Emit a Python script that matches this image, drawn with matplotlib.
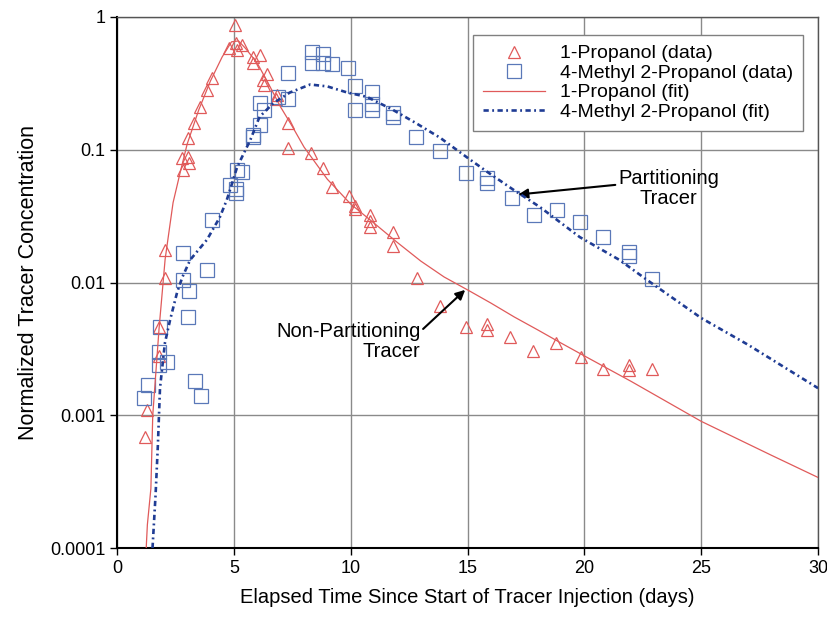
import numpy as np
import matplotlib
matplotlib.use('Agg')
import matplotlib.pyplot as plt
from matplotlib.ticker import FixedLocator, NullLocator

plt.rcParams['font.family'] = ['Liberation Sans', 'DejaVu Sans']

# 1-Propanol measured points (days, normalized concentration)
prop_x = [1.2, 1.28, 1.8, 1.8, 2.06, 2.06, 2.78, 2.82, 3.04, 3.1, 3.04, 3.3, 3.55, 3.85, 4.07,
          5.05, 4.8, 5.1, 5.15, 5.35, 5.8, 5.8, 6.1, 6.25, 6.3, 6.4, 6.8, 6.85, 7.33, 7.33,
          8.3, 8.8, 9.2, 9.94, 10.2, 10.2, 10.83, 10.83, 10.83, 11.8, 11.8, 12.85, 13.83,
          14.95, 15.85, 15.85, 16.83, 17.8, 18.8, 19.87, 20.8, 21.9, 21.9, 22.9]
prop_y = [0.00069, 0.0011, 0.0028, 0.0046, 0.0108, 0.0176, 0.087, 0.07, 0.122, 0.079, 0.088,
          0.16, 0.21, 0.28, 0.35, 0.87, 0.58, 0.64, 0.56, 0.62, 0.50, 0.45, 0.52, 0.335, 0.31,
          0.37, 0.24, 0.26, 0.16, 0.103, 0.094, 0.073, 0.052, 0.045, 0.038, 0.036, 0.032,
          0.029, 0.026, 0.024, 0.0188, 0.0108, 0.00665, 0.0046, 0.0049, 0.0044, 0.0039,
          0.00305, 0.0035, 0.00273, 0.00224, 0.0024, 0.0022, 0.00224]

# 4-Methyl 2-Propanol measured points
meth_x = [1.15, 1.33, 1.8, 1.8, 1.84, 2.14, 2.83, 2.83, 3.08, 3.04, 3.34, 3.6, 3.85, 4.07,
          4.84, 5.1, 5.1, 5.14, 5.35, 5.83, 5.8, 6.1, 6.1, 6.3, 6.9, 7.33, 7.33, 8.35, 8.35,
          8.8, 8.8, 9.2, 9.9, 10.2, 10.2, 10.9, 10.9, 10.9, 11.8, 11.8, 12.8, 13.83, 14.95,
          15.85, 15.85, 16.9, 17.86, 18.84, 19.8, 20.8, 21.9, 21.9, 22.9]
meth_y = [0.00135, 0.0017, 0.003, 0.0024, 0.0046, 0.0025, 0.0166, 0.0105, 0.0086, 0.0055,
          0.0018, 0.0014, 0.0124, 0.0296, 0.054, 0.051, 0.047, 0.07, 0.068, 0.125, 0.13,
          0.154, 0.225, 0.2, 0.25, 0.24, 0.38, 0.545, 0.45, 0.53, 0.45, 0.44, 0.41, 0.30,
          0.2, 0.27, 0.22, 0.2, 0.19, 0.177, 0.125, 0.098, 0.067, 0.061, 0.056, 0.043, 0.032,
          0.035, 0.0286, 0.022, 0.017, 0.0158, 0.0106]

# fitted curves
prop_fit_x = [1.25, 1.3, 1.45, 1.53, 1.8, 2.06, 2.4, 2.7, 3.0, 3.5, 4.0, 4.5, 4.9, 5.2, 5.5,
              6.0, 6.5, 7.0, 7.5, 8.0, 9.0, 10.0, 11.0, 12.0, 13.0, 14.0, 15.0, 16.0, 17.0,
              18.0, 19.0, 20.0, 22.0, 25.0, 28.0, 30.0]
prop_fit_y = [1e-4, 1.5e-4, 2.8e-4, 0.001, 0.0045, 0.015, 0.04, 0.067, 0.11, 0.2, 0.33, 0.5,
              0.65, 0.66, 0.58, 0.45, 0.31, 0.21, 0.15, 0.105, 0.06, 0.039, 0.028, 0.02,
              0.0145, 0.011, 0.0088, 0.007, 0.0055, 0.0044, 0.0035, 0.0028, 0.0018, 0.0009,
              0.0005, 0.00034]

meth_fit_x = [1.52, 1.65, 1.75, 1.84, 2.05, 2.27, 2.57, 2.8, 3.13, 3.85, 4.4, 4.7, 4.84, 5.14,
              5.7, 6.1, 6.7, 7.4, 8.27, 9.0, 9.85, 10.7, 11.8, 12.76, 13.83, 15.0, 15.85,
              16.96, 18.1, 19.8, 21.5, 22.7, 25.0, 27.0, 30.0]
meth_fit_y = [1e-4, 2.5e-4, 6e-4, 0.0016, 0.0035, 0.0052, 0.0084, 0.011, 0.0148, 0.021, 0.031,
              0.042, 0.05, 0.074, 0.118, 0.177, 0.225, 0.27, 0.31, 0.30, 0.27, 0.25, 0.2,
              0.16, 0.123, 0.087, 0.068, 0.05, 0.037, 0.022, 0.0148, 0.0104, 0.0054, 0.0034,
              0.0016]

red = '#e05a5a'
blue = '#5a78b8'
navy = '#1f3c94'

fig = plt.figure(figsize=(8.28, 6.2), dpi=100)
ax = fig.add_axes([0.1413, 0.1161, 0.8467, 0.8565])

ax.plot(prop_x, prop_y, linestyle='none', marker='^', markersize=9, markerfacecolor='none',
        markeredgecolor=red, markeredgewidth=0.9, label='1-Propanol (data)', zorder=3)
ax.plot(meth_x, meth_y, linestyle='none', marker='s', markersize=9.5, markerfacecolor='none',
        markeredgecolor=blue, markeredgewidth=0.9, label='4-Methyl 2-Propanol (data)', zorder=3)
ax.plot(prop_fit_x, prop_fit_y, color=red, lw=0.9, label='1-Propanol (fit)', zorder=4)
ax.plot(meth_fit_x, meth_fit_y, color=navy, lw=1.9, linestyle=(0, (2.0, 1.3, 0.7, 1.3)),
        label='4-Methyl 2-Propanol (fit)', zorder=4)

ax.set_yscale('log')
ax.set_xlim(0, 30)
ax.set_ylim(1e-4, 1)
ax.set_xticks([0, 5, 10, 15, 20, 25, 30])
ax.yaxis.set_major_locator(FixedLocator([1e-4, 1e-3, 1e-2, 1e-1, 1]))
ax.yaxis.set_minor_locator(NullLocator())
ax.set_yticklabels(['0.0001', '0.001', '0.01', '0.1', '1'])
ax.tick_params(axis='both', labelsize=13, direction='out', length=5, width=1, colors='black')

ax.grid(True, which='major', color='#8a8a8a', lw=1)
ax.set_axisbelow(True)
for side in ['left', 'bottom']:
    ax.spines[side].set_linewidth(1.5)
    ax.spines[side].set_color('black')
for side in ['top', 'right']:
    ax.spines[side].set_linewidth(1)
    ax.spines[side].set_color('#555555')

ax.set_xlabel('Elapsed Time Since Start of Tracer Injection (days)', fontsize=14.5, labelpad=8)
ax.set_ylabel('Normalized Tracer Concentration', fontsize=15.5, labelpad=8)

leg = ax.legend(loc='upper right', bbox_to_anchor=(0.979, 0.966), borderaxespad=0,
                fontsize=14, handlelength=3.2, labelspacing=0.1, fancybox=False,
                framealpha=1, edgecolor='#808080', borderpad=0.5)
leg.get_frame().set_linewidth(1)

ax.annotate('Partitioning\nTracer', xy=(17.17, 0.046), xytext=(23.6, 0.051),
            ha='center', va='center', fontsize=14.5, linespacing=1.1,
            arrowprops=dict(arrowstyle='-|>', color='black', lw=1.5, mutation_scale=14,
                            shrinkA=0, shrinkB=0, relpos=(0.0, 0.6)))
ax.annotate('Non-Partitioning\nTracer', xy=(14.9, 0.0088), xytext=(12.98, 0.0036),
            ha='right', va='center', fontsize=14.5, linespacing=1.1, multialignment='right',
            arrowprops=dict(arrowstyle='-|>', color='black', lw=1.5, mutation_scale=14,
                            shrinkA=0, shrinkB=0, relpos=(1.0, 0.75)))

fig.savefig('out.png', dpi=100)
